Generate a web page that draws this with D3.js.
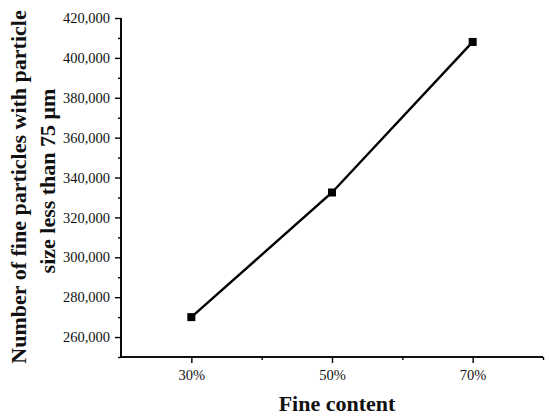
<!DOCTYPE html>
<html>
<head>
<meta charset="utf-8">
<script src="https://cdn.jsdelivr.net/npm/d3@7"></script>
<style>
  body { margin: 0; background: #fff; }
  svg { display: block; }
  text { font-family: "Liberation Serif", "Times New Roman", serif; fill: #111; }
</style>
</head>
<body>
<div id="chart"></div>
<script>
'use strict'

// data
const fineContent = [30, 50, 70]
const particleCount = [270000, 332500, 408000]
const xMajorTicks = [30, 50, 70]
const xMinorTicks = [40, 60, 80]
const xTickLabels = ['30%', '50%', '70%']
const yMajorTicks = [260000, 280000, 300000, 320000, 340000, 360000, 380000, 400000, 420000]
const yMinorTicks = [250000, 270000, 290000, 310000, 330000, 350000, 370000, 390000, 410000]

const width = 550
const height = 419

const svg = d3.select('#chart').append('svg')
  .attr('width', width)
  .attr('height', height)

const x = d3.scaleLinear()
  .domain([20, 80])
  .range([121, 543])

const y = d3.scaleLinear()
  .domain([250000, 420000])
  .range([357, 18])

const fmt = d3.format(',')

// y axis: labelled majors + short minors
const yAxis = svg.append('g')
  .attr('transform', 'translate(121,0)')
  .call(d3.axisLeft(y).tickValues(yMajorTicks).tickFormat(fmt).tickSize(6).tickPadding(5))

yAxis.append('g')
  .call(d3.axisLeft(y).tickValues(yMinorTicks).tickFormat('').tickSize(3))

yAxis.selectAll('.domain').attr('d', `M0,${y(250000)}V${y(420000)}`)

// x axis
const xAxis = svg.append('g')
  .attr('transform', 'translate(0,357)')
  .call(d3.axisBottom(x).tickValues(xMajorTicks)
    .tickFormat((d, i) => xTickLabels[i]).tickSize(6).tickPadding(7))

xAxis.append('g')
  .call(d3.axisBottom(x).tickValues(xMinorTicks).tickFormat('').tickSize(3))

xAxis.selectAll('.domain').attr('d', `M${x(20)},0H${x(80)}`)

svg.selectAll('.domain').attr('stroke', '#000').attr('stroke-width', 1.6)
svg.selectAll('.tick line').attr('stroke', '#000').attr('stroke-width', 1.4)
svg.selectAll('.tick text')
  .attr('font-size', 14.5)
  .attr('font-family', '"Liberation Serif", "Times New Roman", serif')
  .attr('fill', '#111')

// line + square markers
const pts = fineContent.map((c, i) => [c, particleCount[i]])

svg.append('path')
  .datum(pts)
  .attr('fill', 'none')
  .attr('stroke', '#000')
  .attr('stroke-width', 2.4)
  .attr('d', d3.line().x(d => x(d[0])).y(d => y(d[1])))

const ms = 8
svg.selectAll('.marker')
  .data(pts)
  .enter()
  .append('rect')
  .attr('class', 'marker')
  .attr('x', d => x(d[0]) - ms / 2)
  .attr('y', d => y(d[1]) - ms / 2)
  .attr('width', ms)
  .attr('height', ms)
  .attr('fill', '#000')

// axis titles
svg.append('text')
  .attr('x', 337)
  .attr('y', 411)
  .attr('text-anchor', 'middle')
  .attr('font-size', 22)
  .attr('font-weight', 'bold')
  .text('Fine content')

const yTitle = svg.append('g')
  .attr('transform', 'translate(0,187) rotate(-90)')

yTitle.append('text')
  .attr('x', 0)
  .attr('y', 26)
  .attr('text-anchor', 'middle')
  .attr('font-size', 22)
  .attr('font-weight', 'bold')
  .text('Number of fine particles with particle')

yTitle.append('text')
  .attr('x', 6)
  .attr('y', 55)
  .attr('text-anchor', 'middle')
  .attr('font-size', 22)
  .attr('font-weight', 'bold')
  .text('size less than 75 μm')
</script>
</body>
</html>
